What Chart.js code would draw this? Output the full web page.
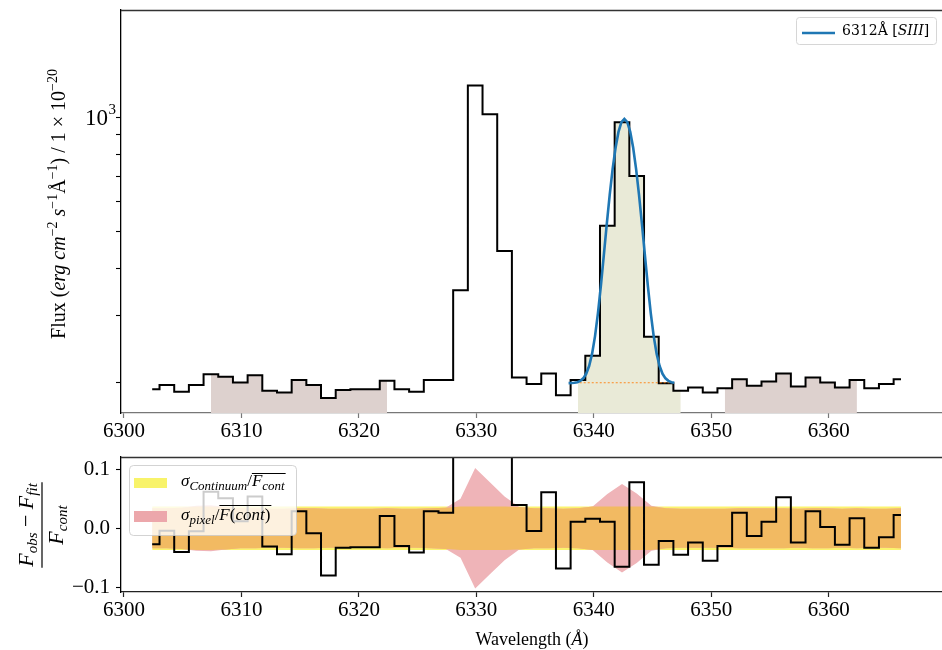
<!DOCTYPE html>
<html>
<head>
<meta charset="utf-8">
<script src="https://cdn.jsdelivr.net/npm/chart.js@4.4.1/dist/chart.umd.min.js"></script>
<style>
  html, body { margin: 0; padding: 0; background: #fff; width: 942px; height: 650px; overflow: hidden; }
  #topBox { position: absolute; left: 0; top: 0; width: 960px; height: 440px; }
  #botBox { position: absolute; left: 0; top: 440px; width: 960px; height: 210px; }
</style>
</head>
<body>
<div id="topBox"><canvas id="cTop" width="960" height="440"></canvas></div>
<div id="botBox"><canvas id="cBot" width="960" height="210"></canvas></div>
<script>
// ---- spectrum around [SIII] 6312 (1.25 Å bins) ----
const wavelength = [
  6302.40, 6303.65, 6304.90, 6306.15, 6307.40, 6308.65, 6309.90, 6311.15, 6312.40, 6313.65,
  6314.90, 6316.15, 6317.40, 6318.65, 6319.90, 6321.15, 6322.40, 6323.65, 6324.90, 6326.15,
  6327.40, 6328.65, 6329.90, 6331.15, 6332.40, 6333.65, 6334.90, 6336.15, 6337.40, 6338.65,
  6339.90, 6341.15, 6342.40, 6343.65, 6344.90, 6346.15, 6347.40, 6348.65, 6349.90, 6351.15,
  6352.40, 6353.65, 6354.90, 6356.15, 6357.40, 6358.65, 6359.90, 6361.15, 6362.40, 6363.65,
  6364.90, 6366.15
];
const flux = [
  192, 197, 189, 197, 210, 207, 200, 209, 190, 188,
  203, 197, 182, 191, 192, 192, 202, 192, 189, 203,
  203, 350, 1212, 1018, 444, 206, 198, 211, 185, 203,
  235, 518, 970, 700, 264, 199, 190, 194, 188, 193,
  204, 196, 201, 211, 195, 206, 200, 194, 203, 193,
  198, 204
];
// (F_obs - F_fit) / F_cont
const residual = [
  -0.027, -0.004, -0.040, -0.005, 0.062, 0.051, 0.012, 0.054, -0.031, -0.044,
  0.029, -0.0085, -0.080, -0.033, -0.032, -0.032, 0.021, -0.030, -0.041, 0.029,
  0.0265, 0.76, 5.09, 4.12, 1.23, 0.0395, -0.0046, 0.061, -0.068, 0.011,
  0.016, 0.011, -0.065, 0.078, -0.062, -0.0215, -0.045, -0.024, -0.055, -0.030,
  0.0265, -0.013, 0.011, 0.0525, -0.024, 0.029, 0.002, -0.028, 0.017, -0.033,
  -0.015, 0.0225
];
// per-pixel error relative to the continuum
const sigmaPixel = [
  0.034, 0.034, 0.035, 0.038, 0.039, 0.036, 0.034, 0.034, 0.033, 0.033,
  0.034, 0.034, 0.033, 0.033, 0.033, 0.033, 0.034, 0.033, 0.033, 0.034,
  0.035, 0.050, 0.102, 0.078, 0.054, 0.036, 0.034, 0.034, 0.033, 0.034,
  0.037, 0.058, 0.075, 0.059, 0.038, 0.034, 0.033, 0.033, 0.033, 0.033,
  0.034, 0.034, 0.034, 0.034, 0.033, 0.034, 0.034, 0.033, 0.034, 0.033,
  0.033, 0.034
];
const sigmaContinuum = 0.0367;

// Gaussian fit of the 6312 line
const fitWave = [
  6337.85, 6338.10, 6338.35, 6338.60, 6338.85, 6339.10, 6339.35, 6339.60, 6339.85, 6340.10,
  6340.35, 6340.60, 6340.85, 6341.10, 6341.35, 6341.60, 6341.85, 6342.10, 6342.35, 6342.60,
  6342.85, 6343.10, 6343.35, 6343.60, 6343.85, 6344.10, 6344.35, 6344.60, 6344.85, 6345.10,
  6345.35, 6345.60, 6345.85, 6346.10, 6346.35, 6346.60, 6346.85
];
const fitFlux = [
  199.1, 199.2, 199.6, 200.3, 201.9, 205.0, 210.7, 220.9, 237.8, 264.5,
  304.1, 359.6, 432.4, 521.7, 623.4, 730.0, 831.1, 915.0, 970.5, 990.0,
  970.5, 915.0, 831.1, 730.0, 623.4, 521.7, 432.4, 359.6, 304.1, 264.5,
  237.8, 220.9, 210.7, 205.0, 201.9, 200.3, 199.6
];
const continuumLevel = 199.6;
const continuumSpan = [6338.80, 6346.80];

const continuumWindows = [[6307.40, 6322.40], [6351.15, 6362.40]];
const lineWindow = [6338.65, 6347.40];

const xTicks = [6300, 6310, 6320, 6330, 6340, 6350, 6360];
const fluxTicks = [200, 300, 400, 500, 600, 700, 800, 900, 1000];
const residualTicks = [-0.1, 0.0, 0.1];

// ---- helpers ----
const SERIF = '"Liberation Serif", "Times New Roman", serif';
const MATH = '"DejaVu Serif", serif';
const X_MIN = 6299.745, X_MAX = 6370.75;
const pts = (xs, ys) => xs.map((x, i) => ({ x: x, y: ys[i] }));
const inWindow = (w) => pts(wavelength, flux).filter(p => p.x >= w[0] - 1e-6 && p.x <= w[1] + 1e-6);

function fontOf(p) { return (p.it ? 'italic ' : '') + p.s + 'px ' + (p.f || SERIF); }
function richWidth(ctx, parts) {
  let w = 0;
  for (const p of parts) { ctx.font = fontOf(p); w += ctx.measureText(p.t).width; }
  return w;
}
// draws parts left-to-right from x on baseline y; returns x position of each part start
function drawRich(ctx, parts, x, y) {
  let cx = x; const xs = [];
  for (const p of parts) {
    ctx.font = fontOf(p);
    xs.push(cx);
    ctx.fillText(p.t, cx, y + (p.dy || 0));
    cx += ctx.measureText(p.t).width;
  }
  xs.push(cx);
  return xs;
}

const xAxis = (h, tickColor) => ({
  type: 'linear', min: X_MIN, max: X_MAX,
  afterBuildTicks: s => { s.ticks = xTicks.map(v => ({ value: v })); },
  ticks: { font: { family: SERIF, size: 21 }, color: '#000', padding: 1, maxRotation: 0, autoSkip: false,
           callback: v => String(v) },
  grid: { drawOnChartArea: false, drawTicks: true, tickLength: 5, tickColor: tickColor, tickWidth: 1.2 },
  border: { display: true, color: tickColor, width: 1.3 },
  afterFit: s => { s.height = h; s.paddingLeft = 0; s.paddingRight = 0; }
});

// ---- top panel: flux ----
const frameTop = {
  id: 'frameTop',
  afterDraw(chart) {
    const ctx = chart.ctx, a = chart.chartArea;
    ctx.save();
    ctx.strokeStyle = '#333'; ctx.lineWidth = 1.3;
    ctx.beginPath(); ctx.moveTo(a.left, a.top + 0.5); ctx.lineTo(a.right, a.top + 0.5); ctx.stroke();
    ctx.fillStyle = '#000'; ctx.textBaseline = 'alphabetic';
    // 10^3 tick label
    const y3 = chart.scales.y.getPixelForValue(1000);
    ctx.font = '23px ' + SERIF; ctx.textAlign = 'right';
    ctx.fillText('10', 108, y3 + 8);
    ctx.font = '15px ' + SERIF; ctx.textAlign = 'left';
    ctx.fillText('3', 108.5, y3 - 3);
    // y label
    ctx.save();
    ctx.translate(65, 204);
    ctx.rotate(-Math.PI / 2);
    const S = 20, s = 14, up = -8;
    const lab = [
      { t: 'Flux (', s: S }, { t: 'erg', s: S, it: true }, { t: ' cm', s: S, it: true },
      { t: '\u22122', s: s, dy: up }, { t: ' s', s: S, it: true }, { t: '\u22121', s: s, dy: up },
      { t: '\u00C5', s: S }, { t: '\u22121', s: s, dy: up }, { t: ') / 1 \u00D7 10', s: S },
      { t: '\u221220', s: s, dy: up }
    ];
    ctx.textAlign = 'left';
    drawRich(ctx, lab, -richWidth(ctx, lab) / 2, 0);
    ctx.restore();
    // legend
    ctx.fillStyle = '#fff'; ctx.strokeStyle = '#d6d6d6'; ctx.lineWidth = 1;
    ctx.beginPath(); ctx.roundRect(796.5, 17.5, 140, 27, 3); ctx.fill(); ctx.stroke();
    ctx.strokeStyle = '#1f77b4'; ctx.lineWidth = 2.6;
    ctx.beginPath(); ctx.moveTo(802, 33); ctx.lineTo(835, 33); ctx.stroke();
    ctx.fillStyle = '#000';
    drawRich(ctx, [{ t: '6312\u00C5 [', s: 14, f: MATH }, { t: 'SIII', s: 14, it: true, f: MATH },
                   { t: ']', s: 14, f: MATH }], 842, 34.5);
    ctx.restore();
  }
};

new Chart(document.getElementById('cTop'), {
  type: 'line',
  data: {
    datasets: [
      { label: 'fit', data: pts(fitWave, fitFlux), borderColor: '#1f77b4', borderWidth: 2.6,
        pointRadius: 0, fill: false, order: 0 },
      { label: 'continuum', data: continuumSpan.map(x => ({ x: x, y: continuumLevel })),
        borderColor: 'rgba(255,127,14,0.9)', borderWidth: 1, borderDash: [2, 2], pointRadius: 0, fill: false, order: 1 },
      { label: 'flux', data: pts(wavelength, flux), stepped: 'middle', borderColor: '#000', borderWidth: 2,
        pointRadius: 0, fill: false, order: 2 },
      { label: 'line window', data: inWindow(lineWindow), stepped: 'middle', borderColor: 'transparent',
        borderWidth: 0, pointRadius: 0, fill: 'start', backgroundColor: '#e9ead7', order: 3 },
      ...continuumWindows.map(w => ({
        label: 'continuum window', data: inWindow(w), stepped: 'middle', borderColor: 'transparent',
        borderWidth: 0, pointRadius: 0, fill: 'start', backgroundColor: '#ddd1ce', order: 3 }))
    ]
  },
  options: {
    responsive: false, animation: false, devicePixelRatio: 1,
    layout: { padding: { left: 0, top: 10, right: 5, bottom: 0 } },
    plugins: { legend: { display: false }, tooltip: { enabled: false }, title: { display: false } },
    scales: {
      x: xAxis(27, '#777'),
      y: {
        type: 'logarithmic', min: 166.1, max: 1918,
        afterBuildTicks: s => { s.ticks = fluxTicks.map(v => ({ value: v })); },
        ticks: { callback: () => '', autoSkip: false, font: { family: SERIF, size: 21 } },
        grid: { drawOnChartArea: false, drawTicks: true, tickLength: 5, tickColor: '#000', tickWidth: 1.1 },
        border: { display: true, color: '#000', width: 1.3 },
        afterFit: s => { s.width = 121; s.paddingTop = 0; s.paddingBottom = 0; }
      }
    }
  },
  plugins: [frameTop]
});

// ---- bottom panel: residuals ----
const band = (half) => wavelength.map((x, i) => ({ x: x, y: half[i] }));
const neg = (arr) => arr.map(p => ({ x: p.x, y: -p.y }));
const contHalf = wavelength.map(() => sigmaContinuum);
const overlapHalf = sigmaPixel.map(v => Math.min(v, sigmaContinuum));

const frameBot = {
  id: 'frameBot',
  afterDraw(chart) {
    const ctx = chart.ctx, a = chart.chartArea;
    ctx.save();
    ctx.strokeStyle = '#333'; ctx.lineWidth = 1.3;
    ctx.beginPath(); ctx.moveTo(a.left, a.top + 0.5); ctx.lineTo(a.right, a.top + 0.5); ctx.stroke();
    ctx.fillStyle = '#000'; ctx.textBaseline = 'alphabetic'; ctx.textAlign = 'left';
    // x label
    const xl = [{ t: 'Wavelength (', s: 18 }, { t: '\u00C5', s: 18, it: true }, { t: ')', s: 18 }];
    drawRich(ctx, xl, 532 - richWidth(ctx, xl) / 2, 645 - 440);
    // y label as a fraction
    ctx.save();
    ctx.translate(0, 525 - 440);
    ctx.rotate(-Math.PI / 2);
    const num = [{ t: 'F', s: 22, it: true }, { t: 'obs', s: 15, it: true, dy: 4 }, { t: ' \u2212 ', s: 22 },
                 { t: 'F', s: 22, it: true }, { t: 'fit', s: 15, it: true, dy: 4 }];
    const den = [{ t: 'F', s: 22, it: true }, { t: 'cont', s: 15, it: true, dy: 4 }];
    const wn = richWidth(ctx, num), wd = richWidth(ctx, den);
    drawRich(ctx, num, -wn / 2, 33);
    drawRich(ctx, den, -wd / 2, 63);
    ctx.lineWidth = 1.2; ctx.strokeStyle = '#000';
    ctx.beginPath(); ctx.moveTo(-wn / 2 - 1, 42); ctx.lineTo(wn / 2 + 1, 42); ctx.stroke();
    ctx.restore();
    // legend
    const oy = -440;
    ctx.fillStyle = 'rgba(255,255,255,0.8)'; ctx.strokeStyle = 'rgba(200,200,200,0.8)'; ctx.lineWidth = 1;
    ctx.beginPath(); ctx.roundRect(129.5, 465.5 + oy, 167, 70, 4); ctx.fill(); ctx.stroke();
    ctx.fillStyle = '#f8f36a'; ctx.fillRect(134, 478 + oy, 33, 10);
    ctx.fillStyle = '#eca7ab'; ctx.fillRect(134, 511 + oy, 33, 11);
    ctx.fillStyle = '#000'; ctx.strokeStyle = '#000'; ctx.lineWidth = 1;
    const r1 = [{ t: '\u03C3', s: 17, it: true }, { t: 'Continuum', s: 13, it: true, dy: 4 }, { t: '/', s: 17 },
                { t: 'F', s: 17, it: true }, { t: 'cont', s: 13, it: true, dy: 4 }];
    const x1 = drawRich(ctx, r1, 181, 486 + oy);
    ctx.beginPath(); ctx.moveTo(x1[3], 473.5 + oy); ctx.lineTo(x1[5] + 1, 473.5 + oy); ctx.stroke();
    const r2 = [{ t: '\u03C3', s: 17, it: true }, { t: 'pixel', s: 13, it: true, dy: 4 }, { t: '/', s: 17 },
                { t: 'F', s: 17, it: true }, { t: '(', s: 17 }, { t: 'cont', s: 17, it: true }, { t: ')', s: 17 }];
    const x2 = drawRich(ctx, r2, 181, 520 + oy);
    ctx.beginPath(); ctx.moveTo(x2[3], 505.5 + oy); ctx.lineTo(x2[7] + 1, 505.5 + oy); ctx.stroke();
    ctx.restore();
  }
};

const fillDs = (label, upper, color, order) => ([
  { label: label, data: band(upper), borderColor: 'transparent', borderWidth: 0, pointRadius: 0,
    fill: '+1', backgroundColor: color, order: order },
  { label: label + ' lower', data: neg(band(upper)), borderColor: 'transparent', borderWidth: 0,
    pointRadius: 0, fill: false, order: order }
]);

new Chart(document.getElementById('cBot'), {
  type: 'line',
  data: {
    datasets: [
      { label: 'residual', data: pts(wavelength, residual), stepped: 'middle', borderColor: '#000',
        borderWidth: 2, pointRadius: 0, fill: false, order: 0 },
      ...fillDs('overlap', overlapHalf, '#f2ba62', 1),
      ...fillDs('sigma pixel', sigmaPixel, '#efb4b8', 2),
      ...fillDs('sigma continuum', contHalf, '#fbf46e', 3)
    ]
  },
  options: {
    responsive: false, animation: false, devicePixelRatio: 1,
    layout: { padding: { left: 0, top: 17, right: 5, bottom: 0 } },
    plugins: { legend: { display: false }, tooltip: { enabled: false }, title: { display: false } },
    scales: {
      x: xAxis(58, '#222'),
      y: {
        type: 'linear', min: -0.108, max: 0.1208,
        afterBuildTicks: s => { s.ticks = residualTicks.map(v => ({ value: v })); },
        ticks: { autoSkip: false, padding: 6, color: '#000', font: { family: SERIF, size: 21 },
                 callback: v => (v < 0 ? '\u2212' : '') + Math.abs(v).toFixed(1) },
        grid: { drawOnChartArea: false, drawTicks: true, tickLength: 5, tickColor: '#000', tickWidth: 1.1 },
        border: { display: true, color: '#000', width: 1.3 },
        afterFit: s => { s.width = 121; s.paddingTop = 0; s.paddingBottom = 0; }
      }
    }
  },
  plugins: [frameBot]
});
</script>
</body>
</html>
